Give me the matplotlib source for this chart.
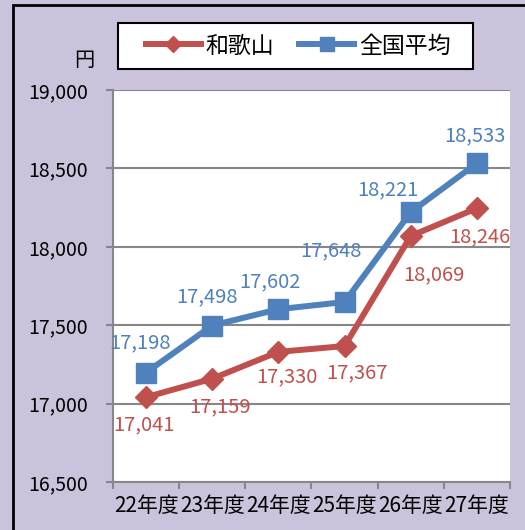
import matplotlib.pyplot as plt
from matplotlib.patches import Rectangle

plt.rcParams['font.family'] = ['Noto Sans CJK JP', 'DejaVu Sans']

years = ['22年度', '23年度', '24年度', '25年度', '26年度', '27年度']
wakayama = [17041, 17159, 17330, 17367, 18069, 18246]
national = [17198, 17498, 17602, 17648, 18221, 18533]

# label offsets in pixels (dx, dy) from each point
blue_off = [(-6, 30), (-5, 29), (-8, 27), (-14, 51), (-23, 22), (-2, 27)]
red_off = [(-2, -28), (8, -28), (9, -25), (12, -27), (23, -39), (3, -29)]

RED = '#C0504D'
BLUE = '#4F81BD'
BG = '#CBC3DB'
GRID = '#878787'

fig = plt.figure(figsize=(5.25, 5.3), dpi=100)
fig.patch.set_facecolor(BG)
fig.patches.append(Rectangle((13 / 525, -0.1), 1.2, 1.1 - 5 / 530, transform=fig.transFigure,
                             fill=False, edgecolor='black', linewidth=2))

ax = fig.add_axes([113 / 525, 1 - 482 / 530, 397 / 525, 392 / 530])
ax.set_facecolor('white')
x = range(len(years))
ax.plot(x, wakayama, color=RED, lw=4.3, marker='D', ms=11, label='和歌山', zorder=3)
ax.plot(x, national, color=BLUE, lw=4.3, marker='s', ms=14.5, label='全国平均', zorder=3)

for i, v in enumerate(national):
    ax.annotate(f'{v:,}', (i, v), xytext=blue_off[i], textcoords='offset pixels',
                ha='center', va='center', color=BLUE, fontsize=14.5)
for i, v in enumerate(wakayama):
    ax.annotate(f'{v:,}', (i, v), xytext=red_off[i], textcoords='offset pixels',
                ha='center', va='center', color=RED, fontsize=14.5)

ax.set_xlim(-0.5, 5.5)
ax.set_ylim(16500, 19000)
ax.set_yticks(range(16500, 19001, 500))
ax.set_yticklabels([f'{t:,}' for t in range(16500, 19001, 500)], fontsize=14)
ax.yaxis.grid(True, color=GRID, lw=1.5)
ax.set_axisbelow(True)
ax.set_xticks(list(x))
ax.set_xticklabels(years, fontsize=15)
ax.set_xticks([i - 0.5 for i in range(7)], minor=True)
ax.tick_params(axis='x', which='major', length=0, pad=9)
ax.tick_params(axis='x', which='minor', length=5, color=GRID, width=1.5)
ax.tick_params(axis='y', length=5, color=GRID, width=1.5, pad=13)
for s in ['top', 'right']:
    ax.spines[s].set_visible(False)
for s in ['left', 'bottom']:
    ax.spines[s].set_color(GRID)
    ax.spines[s].set_linewidth(1.5)

fig.text(84 / 525, 1 - 61 / 530, '円', ha='center', va='center', fontsize=14.5)

# legend box drawn separately so its size matches the reference
fig.patches.append(Rectangle((118 / 525, 1 - 69 / 530), 355 / 525, 46 / 530,
                             transform=fig.transFigure, facecolor='white',
                             edgecolor='black', linewidth=1.5, zorder=4))
leg = fig.legend(loc='center', bbox_to_anchor=(298 / 525, 1 - 46 / 530), ncol=2,
                 frameon=False, fontsize=16.5, handlelength=2.4,
                 handletextpad=0.2, columnspacing=1.1, borderpad=0.4, borderaxespad=0,
                 markerscale=0.7)
leg.set_zorder(5)

fig.savefig('out.png', dpi=100, facecolor=BG)
